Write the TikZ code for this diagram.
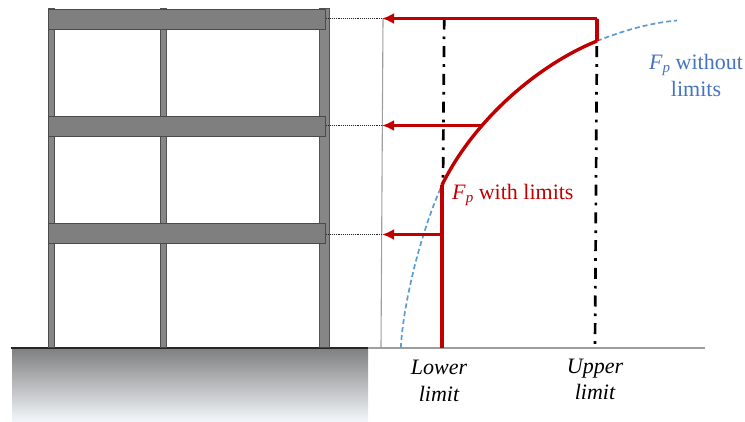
\documentclass[tikz,border=0pt]{standalone}
\usepackage{fontspec}
\setmainfont{Liberation Serif}
\usetikzlibrary{arrows.meta}
\definecolor{steel}{HTML}{7F7F7F}
\definecolor{steeledge}{HTML}{4A4A4A}
\definecolor{fpred}{HTML}{C00000}
\definecolor{fpblue}{HTML}{5B9BD5}
\definecolor{txtblue}{HTML}{4472C4}
\definecolor{groundend}{HTML}{F2F6FA}
\newcommand{\Fp}{\textit{F}\raisebox{-0.32ex}{\fontsize{15}{15}\selectfont\textit{p}}}
\tikzset{
  x=1pt,y=-1pt,
  member/.style={fill=steel,draw=steeledge,line width=1pt,opacity=0.95},
  memberbeam/.style={fill=steel,draw=steeledge,line width=1.1pt},
  level/.style={densely dotted,line width=0.9pt,black!85},
  axisline/.style={draw=black!38,line width=1.1pt},
  force/.style={draw=fpred,line width=3.4pt,-{Latex[length=12pt,width=11pt]}},
  redline/.style={draw=fpred,line width=3.6pt},
  limitline/.style={draw=black,line width=2.7pt,dash pattern=on 11pt off 7pt on 2.7pt off 7pt},
  fpdash/.style={draw=fpblue,line width=1.7pt,dash pattern=on 5pt off 3pt},
  lbl/.style={font=\fontsize{22}{26}\selectfont,inner sep=0pt,align=center},
}
\begin{document}
\begin{tikzpicture}
\useasboundingbox (0,0) rectangle (745,421);
% ground
\shade[top color=steel,bottom color=groundend] (12,348) rectangle (368,421);
\draw[line width=1.7pt,black!85] (11,347.8) -- (368,347.8);
% axes
\coordinate (axbl) at (368,348);
\coordinate (axbr) at (705,348);
\coordinate (axtop) at (383,18.5);
\coordinate (axbot) at (381,348);
\draw[axisline] (axbl) -- (axbr);
\draw[axisline] (axtop) -- (axbot);
% columns
\draw[member] (48,8.5) rectangle (54.5,347);
\draw[member] (160,8.5) rectangle (166,347);
\draw[member] (319.5,8.5) rectangle (329,347);
% beams
\node[memberbeam,anchor=north west,minimum width=277pt,minimum height=19.5pt,inner sep=0pt] (b3) at (48,9) {};
\node[memberbeam,anchor=north west,minimum width=277pt,minimum height=19.5pt,inner sep=0pt] (b2) at (48,116) {};
\node[memberbeam,anchor=north west,minimum width=277pt,minimum height=19.5pt,inner sep=0pt] (b1) at (48,223) {};
% named points
\coordinate (h3) at (382,18.5);
\coordinate (h2) at (382,125.5);
\coordinate (h1) at (382,234.5);
\coordinate (lowb) at (442,348);
\coordinate (lowt) at (442,185);
\coordinate (upc) at (597,41);
\coordinate (upt) at (597,18.5);
\coordinate (midc) at (483,125.5);
\coordinate (lowm) at (442,234.5);
% level lines
\draw[level] (b3.east |- h3) -- (h3);
\draw[level] (b2.east |- h2) -- (h2);
\draw[level] (b1.east |- h1) -- (h1);
% limits
\draw[limitline] (444.2,18.5) -- (443,185);
\draw[limitline] (597,18.5) -- (595,348);
% blue curve
\draw[fpdash] (400.8,348) .. controls (403,305) and (420,234) .. (lowt);
\draw[fpdash] (upc) .. controls (625,30) and (650,23) .. (677,20.5);
% red
\draw[redline] (lowb) -- (lowt);
\draw[draw=fpred,line width=3.4pt] (lowt) .. controls (475,118) and (540,64) .. (upc);
\draw[redline] (upc) -- (upt);
\draw[force] (upt) -- (h3);
\draw[force] (midc) -- (h2);
\draw[force] (lowm) -- (h1);
% labels
\node[lbl,text=txtblue,anchor=center] (t1) at (696,75.5) {\Fp{} without\\[1.5pt]limits};
\node[lbl,text=fpred,anchor=west] (t2) at (452,195) {\Fp{} with limits};
\node[lbl,anchor=center,font=\fontsize{22}{27}\selectfont\itshape] (t3) at (439,381) {Lower\\limit};
\node[lbl,anchor=center,font=\fontsize{22}{26}\selectfont\itshape] (t4) at (595,379.5) {Upper\\limit};
\end{tikzpicture}
\end{document}
